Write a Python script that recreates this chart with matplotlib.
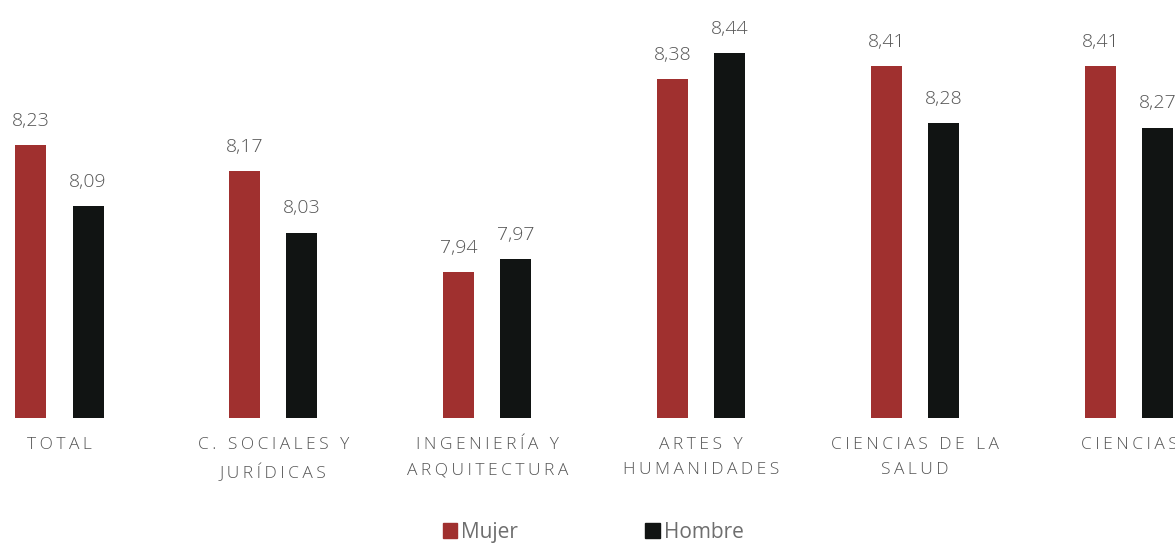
import matplotlib
matplotlib.use("Agg")
import matplotlib.pyplot as plt
import matplotlib.patches as mpatches
import numpy as np

plt.rcParams["font.family"] = ["Open Sans", "DejaVu Sans"]

# ── Datos ─────────────────────────────────────────────────────────────────────
categorias = [
    "TOTAL",
    "C. SOCIALES Y\nJURÍDICAS",
    "INGENIERÍA Y\nARQUITECTURA",
    "ARTES Y\nHUMANIDADES",
    "CIENCIAS DE LA\nSALUD",
    "CIENCIAS",
]
mujer  = [8.23, 8.17, 7.94, 8.38, 8.41, 8.41]
hombre = [8.09, 8.03, 7.97, 8.44, 8.28, 8.27]

COLORS = {"mujer": "#A0302F", "hombre": "#111413", "text": "#555555",
          "leyenda": "#6E6E6E"}


def espaciado(texto):
    # letras separadas con espacio fino, palabras con un hueco mayor
    lineas = []
    for linea in texto.split("\n"):
        palabras = ["\u2009".join(p) for p in linea.split(" ")]
        lineas.append("\u2009 \u2009".join(palabras))
    return "\n".join(lineas)


def fmt(v):
    return f"{v:.2f}".replace(".", ",")


fig = plt.figure(figsize=(11.75, 5.43), dpi=100)
ax = fig.add_axes([0, 0.2302, 1, 0.7698])

x = np.arange(len(categorias))
off = 0.134
w = 0.145
bars_m = ax.bar(x - off, mujer, w, color=COLORS["mujer"])
bars_h = ax.bar(x + off, hombre, w, color=COLORS["hombre"])

for bars, vals in ((bars_m, mujer), (bars_h, hombre)):
    for bar, val in zip(bars, vals):
        ax.annotate(fmt(val), (bar.get_x() + bar.get_width() / 2, val),
                    xytext=(0, 11), textcoords="offset points",
                    ha="center", va="bottom", fontsize=14,
                    color=COLORS["text"], fontweight="light")

ax.set_ylim(7.607, 8.561)
ax.set_xlim(-0.2777, 5.2155)
ax.set_xticks(x)
ax.set_xticklabels([espaciado(c) for c in categorias], fontsize=12.5,
                   color=COLORS["text"], fontweight="light", linespacing=1.75)
ax.tick_params(axis="x", length=0, pad=14)
ax.set_yticks([])
for s in ax.spines.values():
    s.set_visible(False)

handles = [mpatches.Patch(color=COLORS["mujer"], label="Mujer"),
           mpatches.Patch(color=COLORS["hombre"], label="Hombre")]
fig.legend(handles=handles, loc="center", bbox_to_anchor=(0.505, 0.02),
           ncol=2, frameon=False, fontsize=15, handlelength=0.7,
           handleheight=0.7, handletextpad=0.2, columnspacing=6.1,
           labelcolor=COLORS["leyenda"])

fig.savefig("out.png", dpi=100)
